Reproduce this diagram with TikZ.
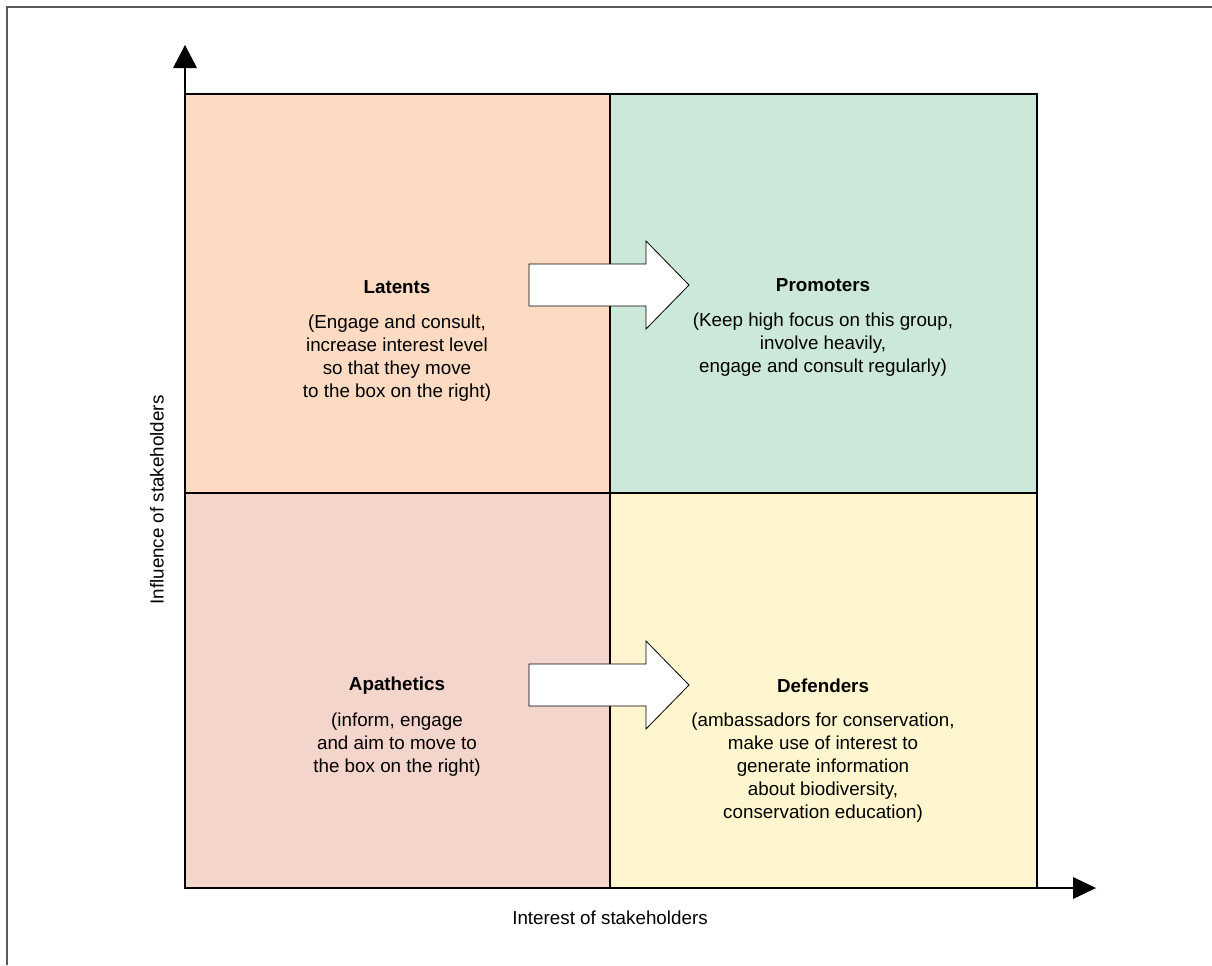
\documentclass[tikz,border=0pt]{standalone}
\usepackage{fontspec}
\setmainfont{Liberation Sans}
\definecolor{latentc}{HTML}{FCDBC2}
\definecolor{promc}{HTML}{CCE8D8}
\definecolor{apac}{HTML}{F4D5CB}
\definecolor{defc}{HTML}{FFF6CF}
\begin{document}
\begin{tikzpicture}[x=0.75pt,y=-0.75pt,
  quad/.style={draw=black, line width=0.8pt},
  ttl/.style={font=\fontsize{14.1}{17.25}\selectfont\bfseries, inner sep=0pt},
  body/.style={font=\fontsize{14.1}{17.25}\selectfont, align=center, inner sep=0pt},
  lbl/.style={font=\fontsize{14.1}{17.25}\selectfont, inner sep=0pt},
  blockarrow/.style={draw=black, fill=white, line width=0.6pt, line join=miter},
  axis/.style={draw=black, line width=0.9pt},
  tip/.style={fill=black}]
\useasboundingbox (0,0) rectangle (1212,965);
% outer frame
\draw[gray!70!black, line width=0.9pt] (7,965) -- (7,7) -- (1212,7);
% quadrants
\fill[latentc] (185,94) rectangle (610,493);
\fill[promc] (610,94) rectangle (1037,493);
\fill[apac] (185,493) rectangle (610,888);
\fill[defc] (610,493) rectangle (1037,888);
\draw[quad] (185,94) rectangle (1037,888);
\draw[quad] (610,94) -- (610,888);
\draw[quad] (185,493) -- (1037,493);
% axes
\coordinate (O) at (185,888);
\coordinate (ytop) at (185,68);
\coordinate (xend) at (1073,888);
\draw[axis] (O) -- (ytop);
\draw[axis] (O) -- (xend);
\fill[tip] (173,68) -- (197,68) -- (185,45) -- cycle;
\fill[tip] (1073,877) -- (1073,899) -- (1096,888) -- cycle;
% block arrows
\draw[blockarrow] (529,264) -- (646,264) -- (646,241) -- (689,285) -- (646,329) -- (646,306) -- (529,306) -- cycle;
\draw[blockarrow] (529,664) -- (646,664) -- (646,641) -- (689,685) -- (646,729) -- (646,706) -- (529,706) -- cycle;
% texts
\node[ttl] (latT) at (397,287) {Latents};
\node[body, anchor=north] (latB) at (397,315) {(Engage and consult,\\increase interest level\\so that they move\\to the box on the right)};
\node[ttl] (proT) at (823,285) {Promoters};
\node[body, anchor=north] (proB) at (823,313) {(Keep high focus on this group,\\involve heavily,\\engage and consult regularly)};
\node[ttl] (apaT) at (397,686) {Apathetics};
\node[body, anchor=north] (apaB) at (397,713) {(inform, engage\\and aim to move to\\the box on the right)};
\node[ttl] (defT) at (823,686) {Defenders};
\node[body, anchor=north] (defB) at (823,713) {(ambassadors for conservation,\\make use of interest to\\generate information\\about biodiversity,\\conservation education)};
\node[lbl, rotate=90] (ylab) at (157,500) {Influence of stakeholders};
\node[lbl] (xlab) at (610,918) {Interest of stakeholders};
\end{tikzpicture}
\end{document}
